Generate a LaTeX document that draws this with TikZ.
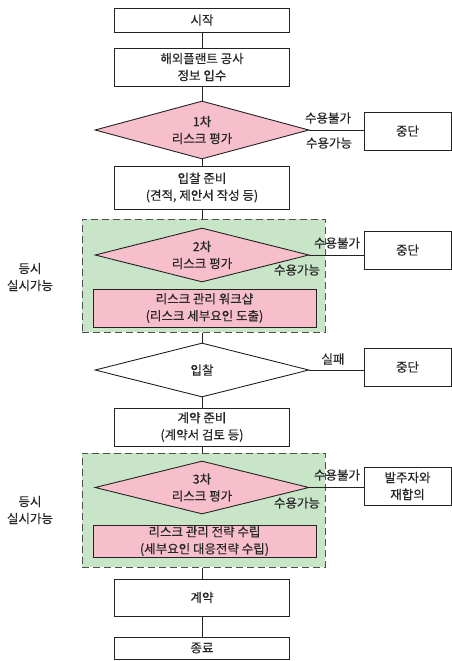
\documentclass[tikz,border=0pt]{standalone}
\usepackage{fontspec}
\setmainfont{Noto Sans CJK KR}[BoldFont={Noto Sans CJK KR}, BoldFeatures={FakeBold=0.35}]
\usetikzlibrary{shapes.geometric}
\definecolor{pinkfill}{RGB}{247,190,204}
\definecolor{greenfill}{RGB}{201,229,199}
\definecolor{linec}{RGB}{35,35,35}
\tikzset{
  base/.style={font=\fontsize{12.5}{17}\selectfont\bfseries, align=center, inner sep=0pt, text=black!85},
  box/.style={base, draw=linec, line width=0.9pt, fill=white, rectangle, minimum width=175pt},
  sidebox/.style={base, draw=linec, line width=0.9pt, fill=white, rectangle, minimum width=87pt, minimum height=38pt},
  pinkbox/.style={base, draw=linec, line width=0.9pt, fill=pinkfill, rectangle, minimum width=223pt},
  dia/.style={base, draw=linec, line width=0.9pt, diamond, aspect=4, minimum width=214pt},
  grp/.style={draw=linec!80, line width=1pt, dash pattern=on 7pt off 4pt, fill=greenfill, rectangle, inner sep=0pt, minimum width=243pt},
  lbl/.style={base},
  conn/.style={draw=linec, line width=0.9pt}
}
\begin{document}
\begin{tikzpicture}[x=1pt,y=-1pt]
\useasboundingbox (0,0) rectangle (452,661);
% groups
\node[grp, minimum height=113pt] (g1) at (203.5,275.5) {};
\node[grp, minimum height=114pt] (g2) at (203.5,510) {};
% main column
\node[box, minimum height=24pt] (start) at (202,20) {시작};
\node[box, minimum height=38pt] (info) at (202,67) {해외플랜트 공사\\정보 입수};
\node[dia, fill=pinkfill, minimum height=58pt] (d1) at (202,130) {1차\\리스크 평가};
\node[box, minimum height=43pt] (bid) at (202,187.5) {입찰 준비\\(견적, 제안서 작성 등)};
\node[dia, fill=pinkfill, minimum height=54pt] (d2) at (202,255) {2차\\리스크 평가};
\node[pinkbox, minimum height=38pt] (ws) at (204.5,308) {리스크 관리 워크샵\\(리스크 세부요인 도출)};
\node[dia, fill=white, minimum height=54pt] (d3) at (202,370) {입찰};
\node[box, minimum height=38pt] (cprep) at (202,427) {계약 준비\\(계약서 검토 등)};
\node[dia, fill=pinkfill, minimum height=53pt] (d4) at (202,487.5) {3차\\리스크 평가};
\node[pinkbox, minimum height=32pt] (strat) at (204.5,541) {리스크 관리 전략 수립\\(세부요인 대응전략 수립)};
\node[box, minimum height=37pt] (contract) at (202,597.5) {계약};
\node[box, minimum height=22pt] (fin) at (202,648) {종료};
% side boxes
\node[sidebox] (s1) at (407.5,131) {중단};
\node[sidebox] (s2) at (407.5,250) {중단};
\node[sidebox] (s3) at (407.5,367) {중단};
\node[sidebox] (s4) at (407.5,486) {발주자와\\재합의};
% left labels
\node[lbl] (l1) at (30,277) {등시\\실시가능};
\node[lbl] (l2) at (30,510) {등시\\실시가능};
% connectors
\draw[conn] (start.south) -- (info.north);
\draw[conn] (info.south) -- (d1.north);
\draw[conn] (d1.south) -- (bid.north);
\draw[conn] (bid.south) -- (bid.south |- g1.north);
\draw[conn] (d3.north |- g1.south) -- (d3.north);
\draw[conn] (d3.south) -- (cprep.north);
\draw[conn] (cprep.south) -- (cprep.south |- g2.north);
\draw[conn] (contract.north |- g2.south) -- (contract.north);
\draw[conn] (contract.south) -- (fin.north);
\draw[conn] (d1.east) -- (s1.west |- d1.east);
\draw[conn] (d2.east) -- (s2.west |- d2.east);
\draw[conn] (d3.east) -- (s3.west |- d3.east);
\draw[conn] (d4.east) -- (s4.west |- d4.east);
% branch labels
\node[lbl] (a1) at (328,118) {수용불가};
\node[lbl] (b1) at (329,143) {수용가능};
\node[lbl] (a2) at (337,243) {수용불가};
\node[lbl] (b2) at (297,270) {수용가능};
\node[lbl] (f3) at (333,359) {실패};
\node[lbl] (a4) at (337,475) {수용불가};
\node[lbl] (b4) at (297,503) {수용가능};
\end{tikzpicture}
\end{document}
